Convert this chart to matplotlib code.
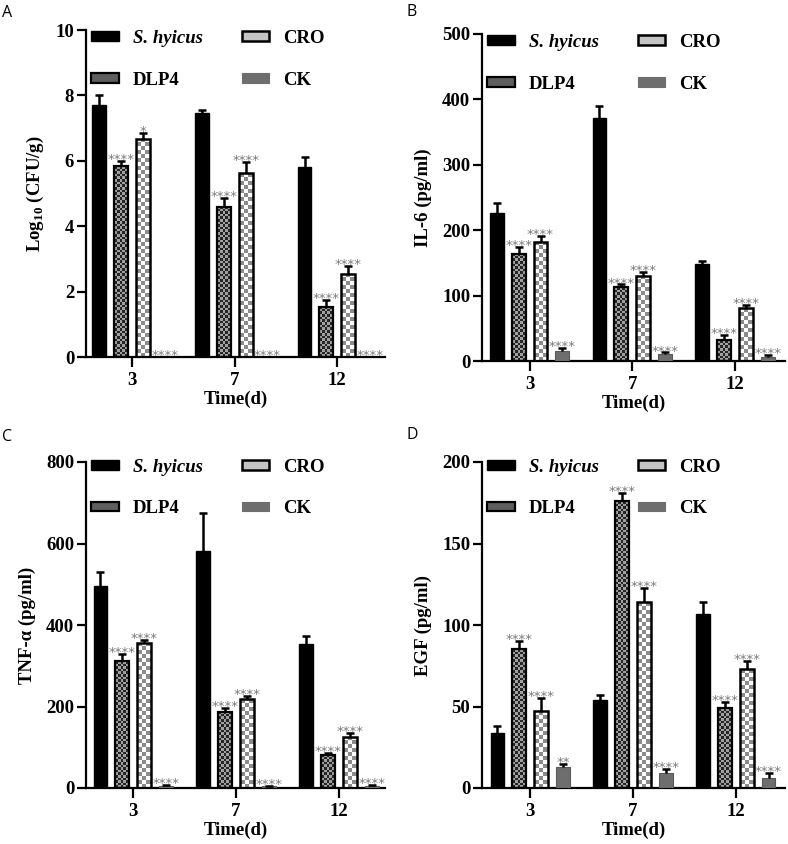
import numpy as np
import matplotlib
matplotlib.use('Agg')
import matplotlib.pyplot as plt
from matplotlib.colors import ListedColormap
from matplotlib.patches import Patch

plt.rcParams['font.family'] = ['Liberation Serif', 'DejaVu Serif']
plt.rcParams['font.weight'] = 'bold'
plt.rcParams['mathtext.fontset'] = 'custom'
plt.rcParams['mathtext.rm'] = 'Liberation Serif:bold'
plt.rcParams['mathtext.bf'] = 'Liberation Serif:bold'

days = ['3', '7', '12']
groups = ['S. hyicus', 'DLP4', 'CRO', 'CK']

# Panel A: Log10 (CFU/g)
a_shy = [7.72, 7.46, 5.80]
a_shy_sd = [0.30, 0.10, 0.33]
a_dlp4 = [5.84, 4.60, 1.54]
a_dlp4_sd = [0.16, 0.25, 0.20]
a_cro = [6.68, 5.62, 2.54]
a_cro_sd = [0.18, 0.35, 0.25]
a_ck = [0.0, 0.0, 0.0]
a_ck_sd = [0.0, 0.0, 0.0]
a_sig_dlp4 = ['****', '****', '****']
a_sig_cro = ['*', '****', '****']
a_sig_ck = ['****', '****', '****']

# Panel B: IL-6 (pg/ml)
b_shy = [227, 372, 148]
b_shy_sd = [14, 18, 5]
b_dlp4 = [164, 113, 32]
b_dlp4_sd = [10, 4, 8]
b_cro = [182, 130, 81]
b_cro_sd = [9, 6, 5]
b_ck = [15, 10, 6]
b_ck_sd = [5, 3, 3]
b_sig_dlp4 = ['****', '****', '****']
b_sig_cro = ['****', '****', '****']
b_sig_ck = ['****', '****', '****']

# Panel C: TNF-alpha (pg/ml)
c_shy = [496, 582, 353]
c_shy_sd = [35, 92, 21]
c_dlp4 = [311, 187, 81]
c_dlp4_sd = [19, 9, 6]
c_cro = [357, 218, 126]
c_cro_sd = [7, 7, 10]
c_ck = [6, 4, 5]
c_ck_sd = [2, 2, 2]
c_sig_dlp4 = ['****', '****', '****']
c_sig_cro = ['****', '****', '****']
c_sig_ck = ['****', '****', '****']

# Panel D: EGF (pg/ml)
d_shy = [34, 54, 107]
d_shy_sd = [4, 3, 7]
d_dlp4 = [85, 176, 49]
d_dlp4_sd = [5, 5, 4]
d_cro = [47, 114, 73]
d_cro_sd = [8, 9, 5]
d_ck = [13, 9, 6]
d_ck_sd = [2, 2.5, 3]
d_sig_dlp4 = ['****', '****', '****']
d_sig_cro = ['****', '****', '****']
d_sig_ck = ['**', '****', '****']

W, H = 788, 844
fig = plt.figure(figsize=(W / 100, H / 100), dpi=100)

FS = 13.5
PITCH = 0.213
BW = 0.135
STAR_COLOR = '#7a7a7a'


def add_axes_px(left, right, top, bottom):
    return fig.add_axes([left / W, 1 - bottom / H, (right - left) / W, (bottom - top) / H])


def checker(ax, bar, cell, colors):
    x0, y0 = bar.get_x(), bar.get_y()
    w, h = bar.get_width(), bar.get_height()
    if h <= 0:
        return
    p0 = ax.transData.transform((x0, y0))
    p1 = ax.transData.transform((x0 + w, y0 + h))
    nx = max(1, int(round((p1[0] - p0[0]) / cell)))
    ny = max(1, int(round((p1[1] - p0[1]) / cell)))
    arr = np.add.outer(np.arange(ny), np.arange(nx)) % 2
    im = ax.imshow(arr, extent=(x0, x0 + w, y0, y0 + h), origin='lower',
                   cmap=ListedColormap(colors), vmin=0, vmax=1,
                   interpolation='nearest', aspect='auto', zorder=2)
    im.set_clip_path(bar)


def panel(ax, xlim, ylim, yticks, ylabel, series, letter, letter_xy, leg_y):
    ax.set_xlim(*xlim)
    ax.set_ylim(*ylim)
    x = np.arange(len(days))
    styles = [
        dict(fc='black', ec='black', lw=1.0, pattern=None),
        dict(fc='none', ec='black', lw=1.6, pattern=(2.6, ['#262626', '#a0a0a0'])),
        dict(fc='none', ec='black', lw=1.8, pattern=(4.0, ['#ffffff', '#8c8c8c'])),
        dict(fc='#6e6e6e', ec='#5a5a5a', lw=0.8, pattern=None),
    ]
    for i, (means, sds, sig) in enumerate(series):
        st = styles[i]
        xs = x + (i - 1.5) * PITCH
        bars = ax.bar(xs, means, width=BW, facecolor=st['fc'], edgecolor=st['ec'],
                      linewidth=st['lw'], zorder=3)
        if st['pattern'] is not None:
            for b in bars:
                checker(ax, b, st['pattern'][0], st['pattern'][1])
        tops = np.array(means) + np.array(sds)
        eb = ax.errorbar(xs, means, yerr=[np.zeros(len(means)), sds], fmt='none',
                         ecolor='black', elinewidth=1.8, capsize=3.0, capthick=1.8, zorder=4)
        eb[1][0].set_visible(False)
        if sig is not None:
            for xx, tt, s in zip(xs, tops, sig):
                ax.annotate(s, (xx, tt), xytext=(0, -1.5), textcoords='offset points',
                            ha='center', va='baseline', fontsize=9.5, color=STAR_COLOR,
                            family='DejaVu Sans', fontweight='normal', zorder=5)
    ax.set_xlim(*xlim)
    ax.set_ylim(*ylim)
    ax.set_xticks(x)
    ax.set_xticklabels(days)
    ax.set_yticks(yticks)
    for s in ['top', 'right']:
        ax.spines[s].set_visible(False)
    for s in ['left', 'bottom']:
        ax.spines[s].set_linewidth(1.6)
    ax.tick_params(axis='y', length=6.5, width=1.6, pad=2, labelsize=FS)
    ax.tick_params(axis='x', length=7, width=1.6, pad=4, labelsize=FS)
    for t in ax.get_xticklabels() + ax.get_yticklabels():
        t.set_fontweight('bold')
    ax.set_ylabel(ylabel, fontsize=FS, fontweight='bold', labelpad=7)
    ax.set_xlabel('Time(d)', fontsize=FS, fontweight='bold', labelpad=1)
    handles = [
        Patch(facecolor='black', edgecolor='black', lw=1.0),
        Patch(facecolor='#5e5e5e', edgecolor='black', lw=1.6),
        Patch(facecolor='#c4c4c4', edgecolor='black', lw=1.8),
        Patch(facecolor='#6e6e6e', edgecolor='#6e6e6e', lw=0.8),
    ]
    leg = ax.legend(handles, groups, ncol=2, loc='upper left', bbox_to_anchor=(0.018, leg_y),
                    frameon=False, fontsize=FS, handlelength=1.45, handleheight=0.42,
                    handletextpad=0.75, columnspacing=2.1, labelspacing=1.31,
                    borderpad=0, borderaxespad=0)
    for t in leg.get_texts():
        t.set_fontweight('bold')
    leg.get_texts()[0].set_fontstyle('italic')
    fig.text(letter_xy[0] / W, 1 - letter_xy[1] / H, letter, family='Open Sans',
             fontweight='normal', fontsize=11.5, ha='left', va='top')


axA = add_axes_px(86, 385, 30, 357)
panel(axA, (-0.45, 2.465), (0, 10), [0, 2, 4, 6, 8, 10], 'Log$_{\\mathrm{10}}$ (CFU/g)',
      [(a_shy, a_shy_sd, None), (a_dlp4, a_dlp4_sd, a_sig_dlp4),
       (a_cro, a_cro_sd, a_sig_cro), (a_ck, a_ck_sd, a_sig_ck)], 'A', (2, 5), 1.0)

axB = add_axes_px(482, 785, 34, 361)
panel(axB, (-0.463, 2.486), (0, 500), [0, 100, 200, 300, 400, 500], 'IL-6 (pg/ml)',
      [(b_shy, b_shy_sd, None), (b_dlp4, b_dlp4_sd, b_sig_dlp4),
       (b_cro, b_cro_sd, b_sig_cro), (b_ck, b_ck_sd, b_sig_ck)], 'B', (406, 4), 1.0)

axC = add_axes_px(86, 385, 462, 788)
panel(axC, (-0.46, 2.45), (0, 800), [0, 200, 400, 600, 800], 'TNF-α (pg/ml)',
      [(c_shy, c_shy_sd, None), (c_dlp4, c_dlp4_sd, c_sig_dlp4),
       (c_cro, c_cro_sd, c_sig_cro), (c_ck, c_ck_sd, c_sig_ck)], 'C', (2, 429), 1.01)

axD = add_axes_px(482, 785, 462, 788)
panel(axD, (-0.47, 2.48), (0, 200), [0, 50, 100, 150, 200], 'EGF (pg/ml)',
      [(d_shy, d_shy_sd, None), (d_dlp4, d_dlp4_sd, d_sig_dlp4),
       (d_cro, d_cro_sd, d_sig_cro), (d_ck, d_ck_sd, d_sig_ck)], 'D', (406, 427), 1.01)

fig.savefig('out.png', dpi=100)
